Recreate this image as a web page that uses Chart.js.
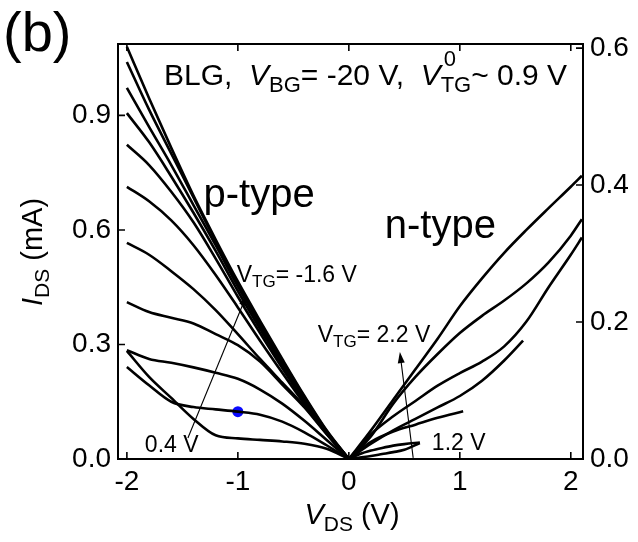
<!DOCTYPE html>
<html>
<head>
<meta charset="utf-8">
<script src="https://cdn.jsdelivr.net/npm/chart.js@4.4.1/dist/chart.umd.min.js"></script>
<style>
  html, body { margin: 0; padding: 0; background: #fff; }
  #wrap { width: 638px; height: 542px; }
</style>
</head>
<body>
<div id="wrap"><canvas id="ivchart"></canvas></div>
<script>
// p-type branch, V_DS < 0 (V_TG = -1.6 V ... 0.4 V, top to bottom)
var vdsP = [-2, -1.8, -1.6, -1.4, -1.2, -1.0, -0.8, -0.6, -0.4, -0.2, 0];
var idsP1  = [1.08, 0.945, 0.815, 0.69, 0.575, 0.465, 0.362, 0.262, 0.165, 0.075, 0];
var idsP2  = [1.04, 0.915, 0.80, 0.685, 0.57, 0.46, 0.356, 0.258, 0.162, 0.073, 0];
var idsP3  = [0.972, 0.87, 0.77, 0.665, 0.56, 0.452, 0.350, 0.252, 0.158, 0.071, 0];
var idsP4  = [0.906, 0.83, 0.74, 0.645, 0.545, 0.44, 0.341, 0.246, 0.154, 0.070, 0];
var idsP5  = [0.823, 0.77, 0.70, 0.62, 0.525, 0.425, 0.330, 0.238, 0.150, 0.068, 0];
var idsP6  = [0.713, 0.675, 0.625, 0.56, 0.482, 0.397, 0.310, 0.226, 0.144, 0.066, 0];
var idsP7  = [0.566, 0.535, 0.492, 0.445, 0.39, 0.327, 0.262, 0.200, 0.138, 0.067, 0];
var idsP8  = [0.411, 0.385, 0.370, 0.355, 0.327, 0.298, 0.255, 0.195, 0.135, 0.065, 0];
var idsP9  = [0.285, 0.262, 0.252, 0.240, 0.226, 0.210, 0.182, 0.145, 0.100, 0.050, 0];
var idsP10 = [0.283, 0.215, 0.160, 0.105, 0.062, 0.054, 0.050, 0.046, 0.040, 0.027, 0];
var idsP11 = [0.241, 0.193, 0.150, 0.136, 0.130, 0.124, 0.116, 0.098, 0.070, 0.036, 0];

// n-type branch, V_DS > 0 (V_TG = 2.2 V ... 1.2 V, top to bottom)
var vdsN = [0, 0.2, 0.4, 0.6, 0.8, 1.0, 1.2, 1.4, 1.6, 1.8, 2.0, 2.1];
var idsN1 = [0, 0.075, 0.155, 0.235, 0.315, 0.400, 0.473, 0.540, 0.600, 0.657, 0.713, 0.742];
var idsN2 = [0, 0.060, 0.145, 0.215, 0.275, 0.330, 0.375, 0.415, 0.460, 0.515, 0.585, 0.628];
var idsN3 = [0, 0.065, 0.112, 0.152, 0.192, 0.225, 0.255, 0.295, 0.360, 0.450, 0.535, 0.580];
var vdsN4 = [0, 0.2, 0.4, 0.6, 0.8, 1.0, 1.2, 1.4, 1.57];
var idsN4 = [0, 0.040, 0.075, 0.105, 0.135, 0.165, 0.205, 0.258, 0.310];
var vdsN5 = [0, 0.2, 0.4, 0.6, 0.8, 1.03];
var idsN5 = [0, 0.045, 0.072, 0.090, 0.108, 0.125];
var vdsN6 = [0, 0.1, 0.2, 0.3, 0.4, 0.5, 0.64];
var idsN6 = [0, 0.013, 0.022, 0.029, 0.035, 0.039, 0.043];
var idsN7 = [0, 0.004, 0.008, 0.013, 0.018, 0.024, 0.042];

// marked point
var markVds = [-1.0];
var markIds = [0.124];

// ticks
var xTicks = [-2, -1, 0, 1, 2];
var yTicks = [0, 0.3, 0.6, 0.9];
var y1Ticks = [0, 0.2, 0.4, 0.6];

var FONT = '"Liberation Sans", Arial, Helvetica, sans-serif';

function pts(xs, ys) {
  return xs.map(function (x, i) { return { x: x, y: ys[i] }; });
}

function curve(xs, ys) {
  return {
    data: pts(xs, ys),
    borderColor: '#000',
    borderWidth: 2.6,
    pointRadius: 0,
    fill: false,
    cubicInterpolationMode: 'monotone',
    yAxisID: 'y'
  };
}

// text with italic / subscript / superscript pieces
function rich(ctx, parts, x, y, size, align) {
  var segs = parts.map(function (p) {
    var small = p[1] === 'sub';
    var f = (p[1] === 'i' ? 'italic ' : '') + (small ? Math.round(size * 0.72) : size) + 'px ' + FONT;
    ctx.font = f;
    var w = ctx.measureText(p[0]).width;
    var w2 = 0;
    if (p[2]) { w2 = ctx.measureText(p[2]).width; }
    return { t: p[0], font: f, w: Math.max(w, w2), dy: small ? size * 0.24 : 0, sup: p[2] };
  });
  var total = segs.reduce(function (a, s) { return a + s.w; }, 0);
  if (align === 'center') x -= total / 2;
  segs.forEach(function (s) {
    ctx.font = s.font;
    ctx.fillText(s.t, x, y + s.dy);
    if (s.sup) ctx.fillText(s.sup, x + 3, y - size * 0.62);
    x += s.w;
  });
}

function arrow(ctx, x0, y0, x1, y1) {
  var a = Math.atan2(y1 - y0, x1 - x0);
  var len = 11, half = 3.5;
  ctx.beginPath();
  ctx.moveTo(x0, y0);
  ctx.lineTo(x1 - Math.cos(a) * len * 0.8, y1 - Math.sin(a) * len * 0.8);
  ctx.lineWidth = 1.1;
  ctx.stroke();
  ctx.beginPath();
  ctx.moveTo(x1, y1);
  ctx.lineTo(x1 - Math.cos(a) * len - Math.sin(a) * half, y1 - Math.sin(a) * len + Math.cos(a) * half);
  ctx.lineTo(x1 - Math.cos(a) * len + Math.sin(a) * half, y1 - Math.sin(a) * len - Math.cos(a) * half);
  ctx.closePath();
  ctx.fill();
}

var framePlugin = {
  id: 'frame',
  afterDatasetsDraw: function (chart) {
    var ctx = chart.ctx, a = chart.chartArea;
    var sx = chart.scales.x, sy = chart.scales.y, sy1 = chart.scales.y1;
    var tl = 7;
    ctx.save();
    ctx.strokeStyle = '#000';
    ctx.lineWidth = 2;
    ctx.strokeRect(a.left, a.top, a.right - a.left, a.bottom - a.top);
    ctx.lineWidth = 1.6;
    ctx.beginPath();
    sx.ticks.forEach(function (t) {
      var px = sx.getPixelForValue(t.value);
      ctx.moveTo(px, a.bottom); ctx.lineTo(px, a.bottom - tl);
      ctx.moveTo(px, a.top); ctx.lineTo(px, a.top + tl);
    });
    sy.ticks.forEach(function (t) {
      var py = sy.getPixelForValue(t.value);
      ctx.moveTo(a.left, py); ctx.lineTo(a.left + tl, py);
    });
    sy1.ticks.forEach(function (t) {
      var py = sy1.getPixelForValue(t.value);
      ctx.moveTo(a.right, py); ctx.lineTo(a.right - tl, py);
    });
    ctx.stroke();
    ctx.restore();
  },
  afterDraw: function (chart) {
    var ctx = chart.ctx;
    var sx = chart.scales.x, sy = chart.scales.y;
    function X(v) { return sx.getPixelForValue(v); }
    function Y(v) { return sy.getPixelForValue(v); }
    ctx.save();
    ctx.fillStyle = '#000';
    ctx.strokeStyle = '#000';
    ctx.textBaseline = 'alphabetic';
    ctx.textAlign = 'left';

    ctx.font = '56px ' + FONT;
    ctx.fillText('(b)', 3, 51);

    rich(ctx, [['BLG,  ', ''], ['V', 'i'], ['BG', 'sub'], ['= -20 V,  ', ''],
               ['V', 'i'], ['TG', 'sub', '0'], ['~ 0.9 V', '']], 164, 85, 30);

    ctx.font = '40px ' + FONT;
    ctx.fillText('p-type', X(-1.31), Y(0.66));
    ctx.fillText('n-type', X(0.324), Y(0.579));

    rich(ctx, [['V', ''], ['TG', 'sub'], ['= -1.6 V', '']], X(-1.01), Y(0.464), 23);
    rich(ctx, [['V', ''], ['TG', 'sub'], ['= 2.2 V', '']], X(-0.28), Y(0.307), 23);
    ctx.font = '23px ' + FONT;
    ctx.fillText('0.4 V', X(-1.838), Y(0.018));
    ctx.fillText('1.2 V', X(0.748), Y(0.024));

    arrow(ctx, X(-1.45), Y(0.055), X(-0.92), Y(0.43));
    arrow(ctx, X(0.58), Y(0.003), X(0.46), Y(0.28));

    // axis titles
    rich(ctx, [['V', 'i'], ['DS', 'sub'], [' (V)', '']], 352, 524, 29, 'center');
    ctx.save();
    ctx.translate(42, 252);
    ctx.rotate(-Math.PI / 2);
    rich(ctx, [['I', 'i'], ['DS', 'sub'], [' (mA)', '']], 0, 0, 29, 'center');
    ctx.restore();

    ctx.restore();
  }
};

var tickFont = { family: FONT, size: 28 };

document.addEventListener('DOMContentLoaded', function () {
  var ctx = document.getElementById('ivchart').getContext('2d');
  new Chart(ctx, {
    type: 'line',
    data: {
      datasets: [
        curve(vdsP, idsP1), curve(vdsP, idsP2), curve(vdsP, idsP3), curve(vdsP, idsP4),
        curve(vdsP, idsP5), curve(vdsP, idsP6), curve(vdsP, idsP7), curve(vdsP, idsP8),
        curve(vdsP, idsP9), curve(vdsP, idsP10), curve(vdsP, idsP11),
        curve(vdsN, idsN1), curve(vdsN, idsN2), curve(vdsN, idsN3),
        curve(vdsN4, idsN4), curve(vdsN5, idsN5), curve(vdsN6, idsN6), curve(vdsN6, idsN7),
        {
          type: 'scatter',
          data: pts(markVds, markIds),
          pointRadius: 5.5,
          pointBackgroundColor: '#0a0aff',
          pointBorderWidth: 0,
          yAxisID: 'y'
        }
      ]
    },
    options: {
      responsive: true,
      maintainAspectRatio: false,
      devicePixelRatio: 1,
      animation: false,
      events: [],
      layout: { padding: { top: 44, left: 0, right: 0, bottom: 0 } },
      plugins: { legend: { display: false }, tooltip: { enabled: false } },
      scales: {
        x: {
          type: 'linear',
          min: -2.08, max: 2.11,
          grid: { display: false, drawTicks: false },
          border: { display: false },
          afterBuildTicks: function (s) { s.ticks = xTicks.map(function (v) { return { value: v }; }); },
          afterFit: function (s) { s.height = 83; },
          ticks: { font: tickFont, color: '#000', padding: 6, maxRotation: 0 }
        },
        y: {
          position: 'left',
          min: 0, max: 1.087,
          grid: { display: false, drawTicks: false },
          border: { display: false },
          afterBuildTicks: function (s) { s.ticks = yTicks.map(function (v) { return { value: v }; }); },
          afterFit: function (s) { s.width = 118; },
          ticks: { font: tickFont, color: '#000', padding: 7,
                   callback: function (v) { return v.toFixed(1); } }
        },
        y1: {
          position: 'right',
          min: 0, max: 0.606,
          grid: { display: false, drawTicks: false },
          border: { display: false },
          afterBuildTicks: function (s) { s.ticks = y1Ticks.map(function (v) { return { value: v }; }); },
          afterFit: function (s) { s.width = 55; },
          ticks: { font: tickFont, color: '#000', padding: 7,
                   callback: function (v) { return v.toFixed(1); } }
        }
      }
    },
    plugins: [framePlugin]
  });
});
</script>
</body>
</html>
